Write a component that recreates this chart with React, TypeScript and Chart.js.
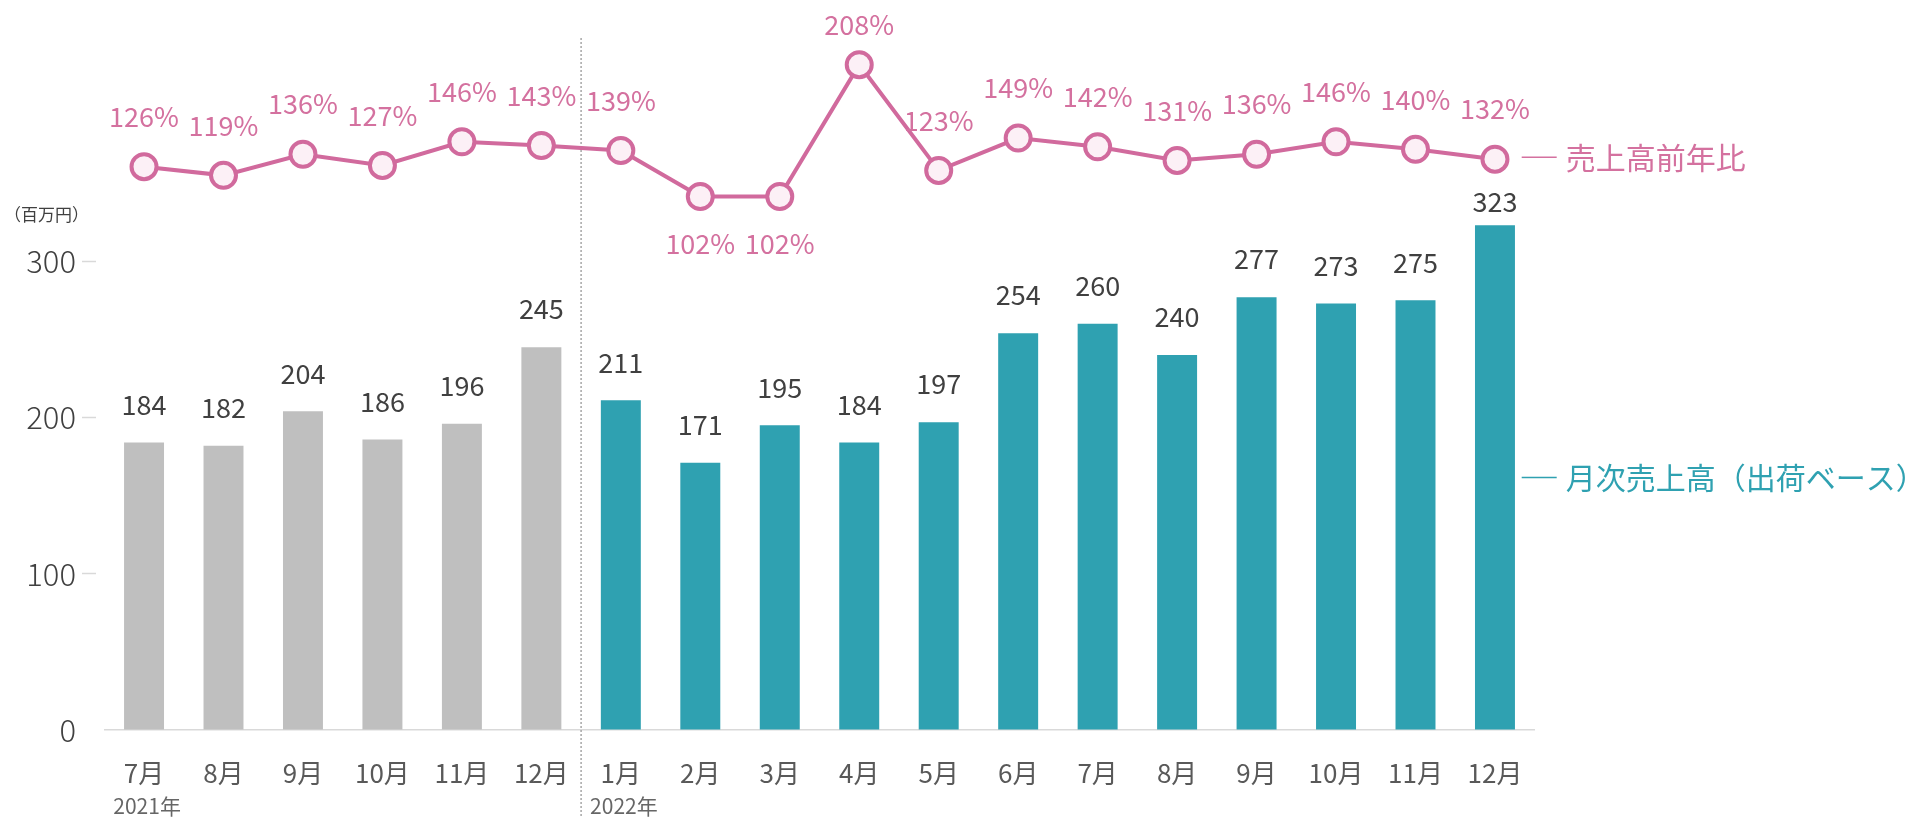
import React, { useEffect, useRef } from 'react';
import { Chart, registerables } from 'chart.js';
Chart.register(...registerables);

const months = ['7月', '8月', '9月', '10月', '11月', '12月', '1月', '2月', '3月', '4月', '5月', '6月', '7月', '8月', '9月', '10月', '11月', '12月'];
const sales = [184, 182, 204, 186, 196, 245, 211, 171, 195, 184, 197, 254, 260, 240, 277, 273, 275, 323];
const ratio = [126, 119, 136, 127, 146, 143, 139, 102, 102, 208, 123, 149, 142, 131, 136, 146, 140, 132];
const years = ['2021年', '2022年'];
const yearStart = [0, 6];
const yTicks = [0, 100, 200, 300];
const unitLabel = '（百万円）';
const salesName = '月次売上高（出荷ベース）';
const ratioName = '売上高前年比';

const FONT = '"Noto Sans CJK JP", "Noto Sans", sans-serif';
const PINK = '#d16a9d';
const PINK_TEXT = '#d4719f';
const TEAL = '#2fa1b1';
const GRAY = '#bfbfbf';

const overlay = {
  id: 'overlay',
  beforeDatasetsDraw(chart: any) {
    const { ctx, scales } = chart;
    const x = scales.x;
    const xb = (x.getPixelForValue(yearStart[1] - 1) + x.getPixelForValue(yearStart[1])) / 2;
    ctx.save();
    ctx.strokeStyle = '#a6a6a6';
    ctx.lineWidth = 1.5;
    ctx.setLineDash([2, 2]);
    ctx.beginPath();
    ctx.moveTo(xb, 38);
    ctx.lineTo(xb, chart.height);
    ctx.stroke();
    ctx.restore();
  },
  afterDatasetsDraw(chart: any) {
    const { ctx, chartArea, scales } = chart;
    const x = scales.x;
    const y = scales.y;
    const lineMeta = chart.getDatasetMeta(0);
    const barMeta = chart.getDatasetMeta(1);
    ctx.save();
    ctx.textAlign = 'center';
    ctx.textBaseline = 'middle';
    // bar value labels
    ctx.font = `27px ${FONT}`;
    ctx.fillStyle = '#404040';
    const ceil = y.getPixelForValue(338);
    barMeta.data.forEach((el: any, i: number) => {
      const ly = Math.max(el.y - 38, ceil);
      ctx.fillText(String(sales[i]), el.x, ly);
    });
    // ratio labels
    const minR = Math.min(...ratio);
    ctx.fillStyle = PINK_TEXT;
    lineMeta.data.forEach((el: any, i: number) => {
      const below = ratio[i] === minR;
      const ly = below ? el.y + 47 : Math.max(el.y - 50, 25);
      ctx.fillText(ratio[i] + '%', el.x, ly);
    });
    // year labels
    ctx.textAlign = 'left';
    ctx.font = `21px ${FONT}`;
    ctx.fillStyle = '#666666';
    const half = (x.getPixelForValue(1) - x.getPixelForValue(0)) / 2;
    years.forEach((yr, k) => {
      const xs = x.getPixelForValue(yearStart[k]) - half + 9;
      ctx.fillText(yr, xs, 806);
    });
    // unit label
    ctx.font = `17px ${FONT}`;
    ctx.fillStyle = '#404040';
    ctx.fillText(unitLabel, 4, y.getPixelForValue(yTicks[3]) - 47);
    // series name labels
    const dashX = chartArea.right - 13;
    const lastPt = lineMeta.data[lineMeta.data.length - 1];
    const lastBar = barMeta.data[barMeta.data.length - 1];
    const items = [
      { text: ratioName, color: PINK_TEXT, yy: lastPt.y - 2 },
      { text: salesName, color: TEAL, yy: (lastBar.y + lastBar.base) / 2 },
    ];
    ctx.font = `30px ${FONT}`;
    items.forEach((it) => {
      ctx.strokeStyle = it.color;
      ctx.lineWidth = 1.5;
      ctx.beginPath();
      ctx.moveTo(dashX, it.yy);
      ctx.lineTo(dashX + 35, it.yy);
      ctx.stroke();
      ctx.fillStyle = it.color;
      ctx.fillText(it.text, dashX + 44, it.yy);
    });
    ctx.restore();
  },
};

export default function App() {
  const ref = useRef<HTMLCanvasElement>(null);
  useEffect(() => {
    document.body.style.margin = '0';
    const barColors = sales.map((_, i) => (i < yearStart[1] ? GRAY : TEAL));
    const chart = new Chart(ref.current as HTMLCanvasElement, {
      type: 'bar',
      data: {
        labels: months,
        datasets: [
          {
            type: 'line',
            label: ratioName,
            data: ratio,
            yAxisID: 'y2',
            borderColor: PINK,
            borderWidth: 4,
            pointRadius: 12.5,
            pointBorderWidth: 4,
            pointBackgroundColor: '#fcf0f6',
            pointBorderColor: PINK,
            tension: 0,
            clip: false,
          } as any,
          {
            type: 'bar',
            label: salesName,
            data: sales,
            yAxisID: 'y',
            backgroundColor: barColors,
            categoryPercentage: 1,
            barPercentage: 0.503,
          },
        ],
      },
      options: {
        responsive: false,
        animation: false,
        devicePixelRatio: 1,
        layout: { padding: { top: 20, right: 393.3, bottom: 0, left: 0 } },
        plugins: { legend: { display: false }, tooltip: { enabled: false } },
        scales: {
          x: {
            offset: true,
            grid: { display: false },
            border: { display: true, color: '#d9d9d9', width: 1.5 },
            ticks: { font: { family: FONT, size: 26 }, color: '#595959', padding: 20, autoSkip: false, maxRotation: 0 },
            afterFit: (s: any) => { s.height = 87; },
          },
          y: {
            min: 0,
            max: 451.5,
            position: 'left',
            grid: {
              display: true,
              drawOnChartArea: false,
              drawTicks: true,
              tickLength: 22.3,
              tickWidth: 1.5,
              tickBorderDash: [14, 100],
              tickColor: (c: any) => (c.tick && c.tick.value === 0 ? 'rgba(0,0,0,0)' : '#d9d9d9'),
            },
            border: { display: false },
            ticks: { font: { family: FONT, size: 31, weight: '300' }, color: '#404040', padding: 6 },
            afterBuildTicks: (s: any) => { s.ticks = yTicks.map((v) => ({ value: v })); },
            afterFit: (s: any) => { s.width = 104.3; },
          },
          y2: {
            display: false,
            min: -326.9,
            max: 240.2,
          },
        },
      },
      plugins: [overlay],
    });
    return () => chart.destroy();
  }, []);
  return (
    <div style={{ position: 'fixed', left: 0, top: 0, width: 1928, height: 817 }}>
      <canvas ref={ref} width={1928} height={817} />
    </div>
  );
}
